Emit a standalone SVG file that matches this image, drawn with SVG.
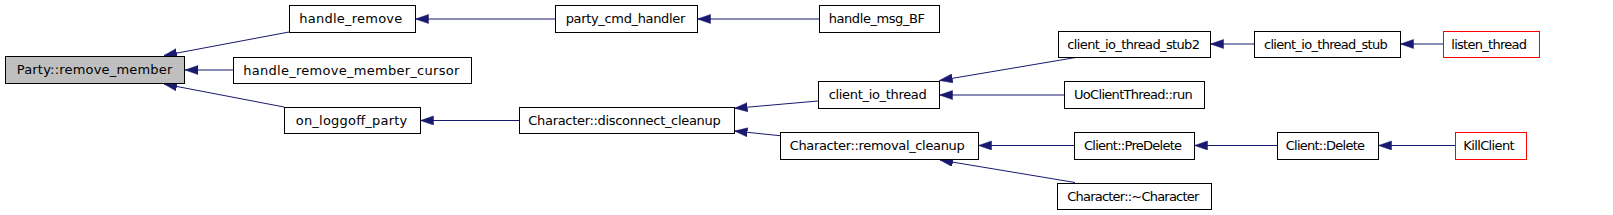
<svg xmlns="http://www.w3.org/2000/svg" width="1613" height="215" viewBox="0 0 1613 215">
<defs>
<marker id="ah" markerUnits="userSpaceOnUse" markerWidth="14" markerHeight="10" refX="13" refY="4.5" orient="auto">
<path d="M0,0 L13,4.5 L0,9 z" fill="#191970" stroke="#191970" stroke-width="0.5"/>
</marker>
<style>
.n rect{fill:#fff;stroke:#000;stroke-width:1}
.n.root rect{fill:#bfbfbf}
.n.red rect{stroke:#ff0000}
.n text{font-family:"DejaVu Sans",sans-serif;font-size:13px;fill:#000}
.e path{fill:none;stroke:#191970;stroke-width:1;marker-end:url(#ah)}
</style>
</defs>
<rect width="1613" height="215" fill="#fff"/>
<g id="edges" class="e">
<path d="M289,32 L164,55.5"/>
<path d="M233,70 L185,70"/>
<path d="M284,107 L164,84"/>
<path d="M555,19 L415.5,19"/>
<path d="M819,19 L697.5,19"/>
<path d="M519,120.5 L420.5,120.5"/>
<path d="M818,101 L734.5,108.3"/>
<path d="M780,135.7 L734.5,131"/>
<path d="M1077,57.3 L939.5,80.5"/>
<path d="M1064,95 L939.5,95"/>
<path d="M1074,145.5 L978.5,145.5"/>
<path d="M1075,182.5 L940,160"/>
<path d="M1254,44 L1210.5,44"/>
<path d="M1443,44 L1400.5,44"/>
<path d="M1277,145.5 L1194.5,145.5"/>
<path d="M1455,145.5 L1378.5,145.5"/>
</g>
<g id="n_party_remove_member" class="n root"><rect x="5.5" y="56.5" width="179" height="27"/><text x="16.7" y="74" textLength="155.6" lengthAdjust="spacing">Party::remove_member</text></g>
<g id="n_handle_remove" class="n"><rect x="289.5" y="5.5" width="126" height="27"/><text x="299.3" y="23" textLength="103" lengthAdjust="spacing">handle_remove</text></g>
<g id="n_handle_remove_member_cursor" class="n"><rect x="233.5" y="57.5" width="238" height="26"/><text x="243.3" y="74.5" textLength="216" lengthAdjust="spacing">handle_remove_member_cursor</text></g>
<g id="n_on_loggoff_party" class="n"><rect x="284.5" y="107.5" width="136" height="26"/><text x="295.7" y="124.5" textLength="111.6" lengthAdjust="spacing">on_loggoff_party</text></g>
<g id="n_party_cmd_handler" class="n"><rect x="555.5" y="5.5" width="142" height="27"/><text x="565.7" y="23" textLength="119.6" lengthAdjust="spacing">party_cmd_handler</text></g>
<g id="n_handle_msg_BF" class="n"><rect x="819.5" y="5.5" width="120" height="27"/><text x="828.7" y="23" textLength="96.3" lengthAdjust="spacing">handle_msg_BF</text></g>
<g id="n_disconnect_cleanup" class="n"><rect x="519.5" y="107.5" width="215" height="26"/><text x="528.3" y="124.5" textLength="192.4" lengthAdjust="spacing">Character::disconnect_cleanup</text></g>
<g id="n_client_io_thread" class="n"><rect x="818.5" y="81.5" width="121" height="27"/><text x="828.7" y="99" textLength="98" lengthAdjust="spacing">client_io_thread</text></g>
<g id="n_removal_cleanup" class="n"><rect x="780.5" y="132.5" width="198" height="27"/><text x="789.7" y="150" textLength="175" lengthAdjust="spacing">Character::removal_cleanup</text></g>
<g id="n_client_io_thread_stub2" class="n"><rect x="1058.5" y="31.5" width="152" height="26"/><text x="1067.3" y="48.5" textLength="132.7" lengthAdjust="spacing">client_io_thread_stub2</text></g>
<g id="n_client_io_thread_stub" class="n"><rect x="1254.5" y="31.5" width="146" height="26"/><text x="1264" y="48.5" textLength="123.7" lengthAdjust="spacing">client_io_thread_stub</text></g>
<g id="n_listen_thread" class="n red"><rect x="1443.5" y="31.5" width="96" height="26"/><text x="1451.3" y="48.5" textLength="75.7" lengthAdjust="spacing">listen_thread</text></g>
<g id="n_UoClientThread_run" class="n"><rect x="1064.5" y="81.5" width="140" height="27"/><text x="1074" y="99" textLength="118.7" lengthAdjust="spacing">UoClientThread::run</text></g>
<g id="n_Client_PreDelete" class="n"><rect x="1074.5" y="132.5" width="120" height="27"/><text x="1084" y="150" textLength="98" lengthAdjust="spacing">Client::PreDelete</text></g>
<g id="n_Client_Delete" class="n"><rect x="1277.5" y="132.5" width="101" height="27"/><text x="1285.7" y="150" textLength="79.3" lengthAdjust="spacing">Client::Delete</text></g>
<g id="n_KillClient" class="n red"><rect x="1455.5" y="132.5" width="71" height="27"/><text x="1463.3" y="150" textLength="51.3" lengthAdjust="spacing">KillClient</text></g>
<g id="n_Character_dtor" class="n"><rect x="1057.5" y="183.5" width="154" height="26"/><text x="1067.3" y="200.5" textLength="132" lengthAdjust="spacing">Character::~Character</text></g>
</svg>
